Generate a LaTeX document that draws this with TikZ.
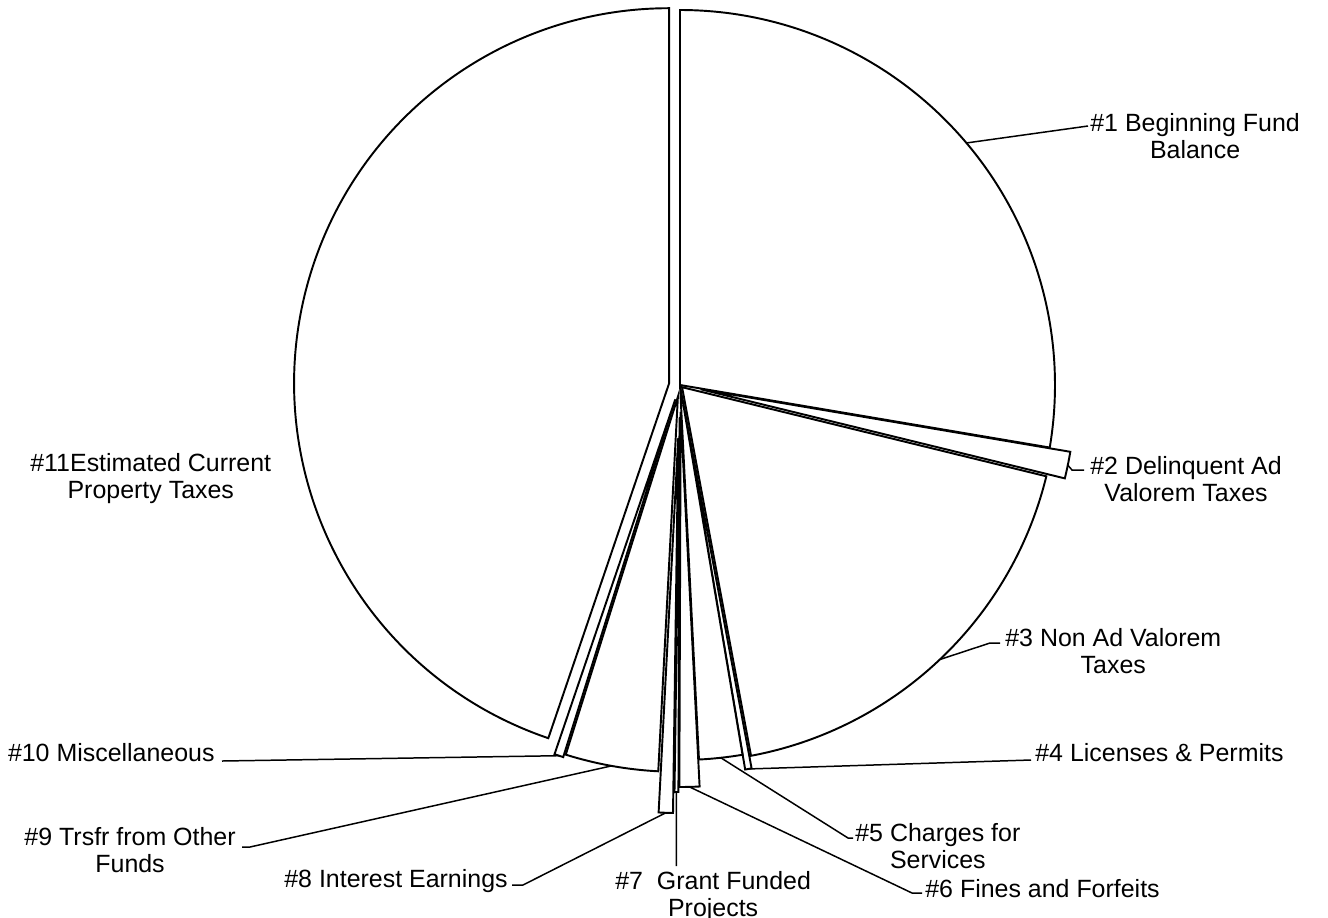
\documentclass[tikz,border=0pt]{standalone}
\usepackage{fontspec}
\setmainfont{Liberation Sans}
\usetikzlibrary{calc}

\tikzset{
  slice/.style={draw=black, line width=1.1pt, fill=white, line join=miter},
  leader/.style={draw=black, line width=0.85pt},
  lbl/.style={inner sep=0pt, font=\fontsize{14.2}{15.4}\selectfont}
}

\begin{document}
\begin{tikzpicture}[x=0.02cm, y=0.02cm, every text node part/.style={align=center}]
\useasboundingbox (0,0) rectangle (1328,-917);

				\begin{scope}[shift={(680,-385)}]
  % explode / start / end of every slice
  \foreach \n/\d/\a/\b in {1/0/90/-9.6, 2/21/-9.6/-13.75, 3/3/-13.75/-79.4,
      4/15/-79.4/-80.4, 5/0/-80.4/-87.1, 6/27/-87.1/-90.2, 7/32/-90.2/-90.8,
      8/53/-90.8/-93, 9/12/-93/-107.4, 10/15/-107.4/-108.8, 11/11/-108.8/-270}
  {
    \draw[slice] ({(\a+\b)/2}:\d) -- ++(\a:375) arc[start angle=\a, end angle=\b, radius=375] -- cycle;
    \coordinate (s\n) at ({(\a+\b)/2}:{\d+375});
  }
				\end{scope}

	\node[lbl, anchor=north west] (l1) at (1090,-113) {\#1 Beginning Fund\\Balance};
	\node[lbl, anchor=north west] (l2) at (1090,-456) {\#2 Delinquent Ad\\Valorem Taxes};
	\node[lbl, anchor=north west] (l3) at (1005,-628) {\#3 Non Ad Valorem\\Taxes};
	\node[lbl, anchor=north west] (l4) at (1035,-743) {\#4 Licenses \& Permits};
	\node[lbl, anchor=north west] (l5) at (855,-823) {\#5 Charges for\\Services};
	\node[lbl, anchor=north west] (l6) at (925,-879) {\#6 Fines and Forfeits};
	\node[lbl, anchor=north west] (l7) at (615,-871) {\#7\ \ Grant Funded\\Projects};
	\node[lbl, anchor=north east] (l8) at (508,-869) {\#8 Interest Earnings};
	\node[lbl, anchor=north east] (l9) at (236,-827) {\#9 Trsfr from Other\\Funds};
	\node[lbl, anchor=north east] (l10) at (215,-743) {\#10 Miscellaneous};
	\node[lbl, anchor=north west] (l11) at (30,-453) {\#11Estimated Current\\Property Taxes};

	% leader lines
	\coordinate (k1) at (1088,-126);
	\coordinate (k2) at (1072,-470);
	\coordinate (k3) at (990,-643);
	\coordinate (k4) at (1031,-760);
	\coordinate (k5) at (848,-838);
	\coordinate (k6) at (912,-893);
	\coordinate (k7) at (676.4,-866);
	\coordinate (k8) at (523,-885);
	\coordinate (k9) at (250,-847);
	\coordinate (k10) at (222,-761);

	\draw[leader] (s1) -- (k1);
	\draw[leader] (s2) -- (k2) -- ++(12,0);
	\draw[leader] (s3) -- (k3) -- ++(10,0);
	\draw[leader] (s4) -- (k4);
	\draw[leader] (s5) -- (k5) -- ++(5,0);
	\draw[leader] (s6) -- (k6) -- ++(10,0);
	\draw[leader] (s7) -- (k7);
	\draw[leader] (s8) -- (k8) -- ++(-11,0);
	\draw[leader] (s9) -- (k9) -- ++(-8,0);
	\draw[leader] (s10) -- (k10);

\end{tikzpicture}
\end{document}
